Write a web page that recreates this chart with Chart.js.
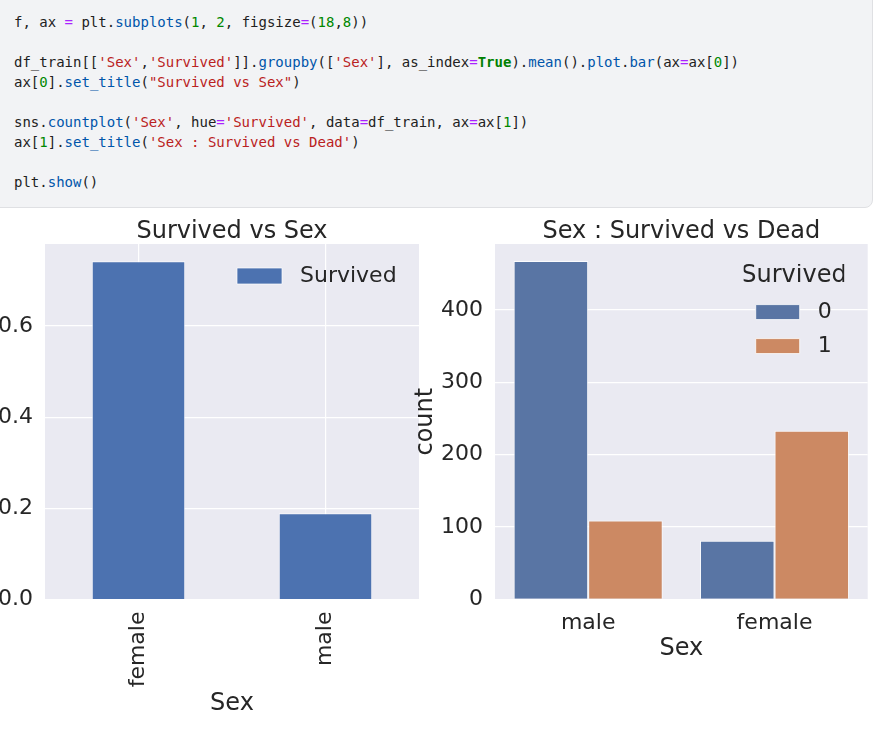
<!DOCTYPE html>
<html>
<head>
<meta charset="utf-8">
<script src="https://cdn.jsdelivr.net/npm/chart.js@4.4.1/dist/chart.umd.min.js"></script>
<style>
  html, body { margin: 0; padding: 0; }
  body { width: 875px; height: 737px; position: relative; overflow: hidden; background: #fff; }
  .cell {
    position: absolute; left: -10px; top: -10px; width: 883px; height: 218px;
    background: #f2f3f5; border: 1px solid #dfe0e3; border-radius: 8px; box-sizing: border-box;
  }
  .cell pre {
    position: absolute; left: 23px; top: 21px; margin: 0;
    font-family: "DejaVu Sans Mono", "Liberation Mono", monospace; font-size: 14px; line-height: 20px;
    color: #212121;
  }
  .op { color: #aa22ff; }
  .n { color: #008800; }
  .s { color: #ba2121; }
  .p { color: #0055aa; }
  .k { color: #008000; font-weight: bold; }
  canvas { position: absolute; }
</style>
</head>
<body>
<div class="cell"><pre>f, ax <span class="op">=</span> plt.<span class="p">subplots</span>(<span class="n">1</span>, <span class="n">2</span>, figsize<span class="op">=</span>(<span class="n">18</span>,<span class="n">8</span>))

df_train[[<span class="s">'Sex'</span>,<span class="s">'Survived'</span>]].<span class="p">groupby</span>([<span class="s">'Sex'</span>], as_index<span class="op">=</span><span class="k">True</span>).<span class="p">mean</span>().<span class="p">plot</span>.<span class="p">bar</span>(ax<span class="op">=</span>ax[<span class="n">0</span>])
ax[<span class="n">0</span>].<span class="p">set_title</span>(<span class="s">"Survived vs Sex"</span>)

sns.<span class="p">countplot</span>(<span class="s">'Sex'</span>, hue<span class="op">=</span><span class="s">'Survived'</span>, data<span class="op">=</span>df_train, ax<span class="op">=</span>ax[<span class="n">1</span>])
ax[<span class="n">1</span>].<span class="p">set_title</span>(<span class="s">'Sex : Survived vs Dead'</span>)

plt.<span class="p">show</span>()</pre></div>

<canvas id="left" width="490" height="527" style="left:-60px; top:210px"></canvas>
<canvas id="right" width="480" height="460" style="left:395px; top:210px"></canvas>

<script>
// left: mean survival by sex
const sexLeft = ["female", "male"];
const survivedRate = [0.742, 0.189];
const leftTicks = [0, 0.2, 0.4, 0.6];

// right: counts by sex and survived
const sexRight = ["male", "female"];
const hueLabels = ["0", "1"];
const deadCount = [468, 81];
const aliveCount = [109, 233];
const rightTicks = [0, 100, 200, 300, 400];

const TEXT = "#262626";
const FONT = "DejaVu Sans";
Chart.defaults.font.family = FONT;
Chart.defaults.color = TEXT;

// grey plot background like seaborn darkgrid
const areaBg = {
  id: "areaBg",
  beforeDraw(chart) {
    const { ctx, chartArea: a } = chart;
    ctx.save();
    ctx.fillStyle = "#eaeaf2";
    ctx.fillRect(a.left, a.top, a.width, a.height);
    ctx.restore();
  }
};

// move the legend box to the upper right corner inside the plot
const legendAt = {
  id: "legendAt",
  afterLayout(chart, args, opts) {
    const lg = chart.legend;
    if (!lg) return;
    lg.left = opts.x;
    lg.top = opts.y;
    if (opts.w) lg.width = opts.w;
    lg.right = lg.left + lg.width;
    lg.bottom = lg.top + lg.height;
    lg.adjustHitBoxes();
  }
};

function spacedLabels(chart) {
  return Chart.defaults.plugins.legend.labels.generateLabels(chart)
    .map(item => ({ ...item, text: " " + item.text }));
}

function fixedTicks(values) {
  return s => { s.ticks = values.map(v => ({ value: v })); };
}

const gridOpts = { color: "#ffffff", lineWidth: 1.2, drawTicks: false };

new Chart(document.getElementById("left"), {
  type: "bar",
  data: {
    labels: sexLeft,
    datasets: [{
      label: "Survived",
      data: survivedRate,
      backgroundColor: "#4c72b0",
      borderColor: "rgba(255,255,255,0.7)",
      borderWidth: 1,
      barPercentage: 0.5,
      categoryPercentage: 1.0
    }]
  },
  options: {
    responsive: false,
    animation: false,
    events: [],
    layout: { padding: { left: 0, right: 11, top: 0, bottom: 0 } },
    scales: {
      x: {
        grid: { ...gridOpts, offset: false },
        border: { display: false },
        ticks: { minRotation: 90, maxRotation: 90, padding: 12, font: { size: 22 }, color: TEXT },
        title: { display: true, text: "Sex", font: { size: 24 }, color: TEXT, padding: { top: 0, bottom: 19 } },
        afterFit(s) { s.height = 137.5; }
      },
      y: {
        min: 0,
        max: 0.78,
        grid: gridOpts,
        border: { display: false },
        afterBuildTicks: fixedTicks(leftTicks),
        ticks: { padding: 12, font: { size: 22 }, color: TEXT, callback: v => v.toFixed(1) },
        afterFit(s) { s.width = 105; }
      }
    },
    plugins: {
      title: {
        display: true, text: "Survived vs Sex", fullSize: false, color: TEXT,
        font: { size: 24, weight: "normal", lineHeight: 1 },
        padding: { top: 10, bottom: 0 }
      },
      legend: {
        display: true, position: "chartArea", align: "start",
        labels: { boxWidth: 45, boxHeight: 16, padding: 12, font: { size: 22 }, color: TEXT, generateLabels: spacedLabels }
      },
      legendAt: { x: 285, y: 43 },
      tooltip: { enabled: false }
    }
  },
  plugins: [areaBg, legendAt]
});

new Chart(document.getElementById("right"), {
  type: "bar",
  data: {
    labels: sexRight,
    datasets: [
      {
        label: hueLabels[0],
        data: deadCount,
        backgroundColor: "#5975a4",
        borderColor: "rgba(255,255,255,0.8)",
        borderWidth: 1,
        barPercentage: 1.0,
        categoryPercentage: 0.8
      },
      {
        label: hueLabels[1],
        data: aliveCount,
        backgroundColor: "#cc8963",
        borderColor: "rgba(255,255,255,0.8)",
        borderWidth: 1,
        barPercentage: 1.0,
        categoryPercentage: 0.8
      }
    ]
  },
  options: {
    responsive: false,
    animation: false,
    events: [],
    layout: { padding: { left: 0, right: 7.3, top: 0, bottom: 0 } },
    scales: {
      x: {
        grid: { display: false },
        border: { display: false },
        ticks: { padding: 2.5, font: { size: 22 }, color: TEXT },
        title: { display: true, text: "Sex", font: { size: 24 }, color: TEXT, padding: { top: 0, bottom: 7 } },
        afterFit(s) { s.height = 70.7; }
      },
      y: {
        min: 0,
        max: 491.4,
        grid: gridOpts,
        border: { display: false },
        afterBuildTicks: fixedTicks(rightTicks),
        ticks: { padding: 12, font: { size: 22 }, color: TEXT },
        title: { display: true, text: "count", font: { size: 24 }, color: TEXT, padding: { top: 16.6, bottom: 0 } },
        afterFit(s) { s.width = 100; }
      }
    },
    plugins: {
      title: {
        display: true, text: "Sex : Survived vs Dead", fullSize: false, color: TEXT,
        font: { size: 24, weight: "normal", lineHeight: 1 },
        padding: { top: 10, bottom: 0 }
      },
      legend: {
        display: true, position: "chartArea", align: "start",
        title: { display: true, text: "Survived", color: TEXT, font: { size: 24, lineHeight: 1.05 }, padding: 0 },
        labels: { boxWidth: 44, boxHeight: 15, padding: 12, font: { size: 22 }, color: TEXT, generateLabels: spacedLabels }
      },
      legendAt: { x: 348.7, y: 53.9, w: 100.6 },
      tooltip: { enabled: false }
    }
  },
  plugins: [areaBg, legendAt]
});
</script>
</body>
</html>
